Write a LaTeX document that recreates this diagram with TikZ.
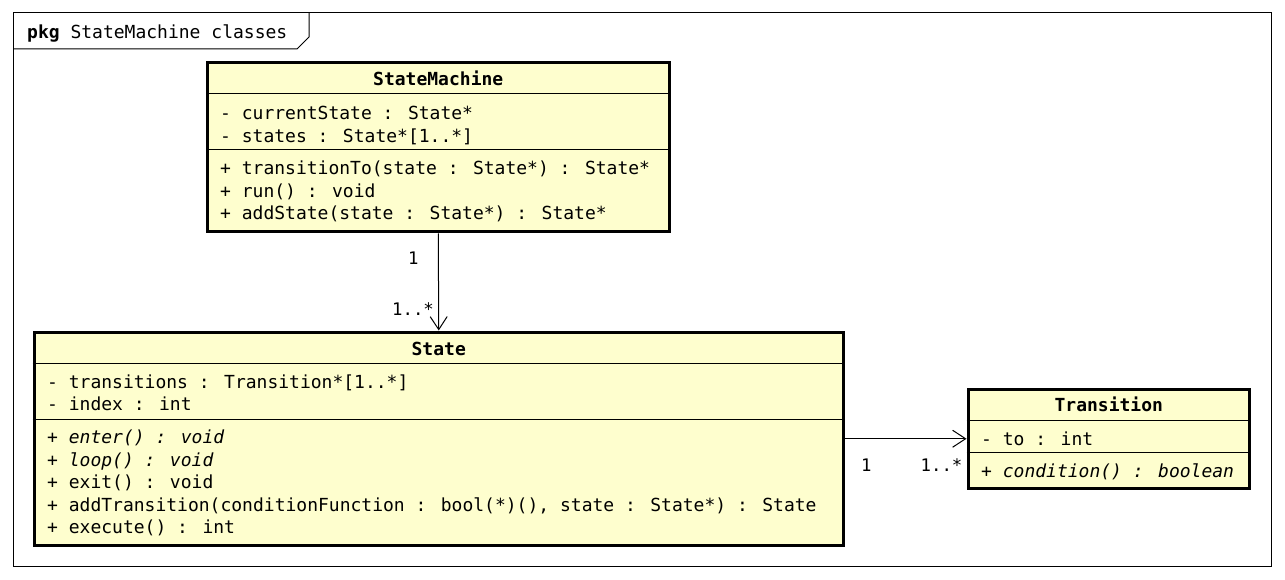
\documentclass[tikz,border=0pt]{standalone}
\usepackage{fontspec}
\setmainfont{DejaVu Sans Mono}
\usetikzlibrary{arrows.meta}
\definecolor{classfill}{HTML}{FEFECE}
\begin{document}
\begin{tikzpicture}[x=1pt,y=-1pt,
 classbox/.style={draw, line width=3pt, fill=classfill, inner sep=0pt},
 sepline/.style={line width=1pt},
 txt/.style={anchor=base west, inner sep=0pt, font=\fontsize{18}{22}\selectfont},
 ttl/.style={anchor=base, inner sep=0pt, font=\fontsize{18}{22}\selectfont\bfseries},
 mult/.style={anchor=base west, inner sep=0pt, font=\fontsize{17.3}{20}\selectfont},
 assoc/.style={line width=1pt, -{Straight Barb[length=13pt,width=17pt]}}]
\useasboundingbox (0,0) rectangle (1285,580);
% package frame
\draw[line width=1pt] (13,13) rectangle (1271,566);
\draw[line width=1pt] (13,49) -- (297,49) -- (309,37) -- (309,13);
\node[txt] (pkg) at (27,39) {\textbf{pkg} StateMachine classes};

% StateMachine
\node[classbox, minimum width=461.5pt, minimum height=169pt] (sm) at (438.25,147.5) {};
\draw[sepline] (sm.west |- 0,94) -- (sm.east |- 0,94);
\draw[sepline] (sm.west |- 0,150) -- (sm.east |- 0,150);
\node[ttl] (smt) at (438.25,86) {StateMachine};
\node[txt] (sma1) at (220,120) {- currentState : State*};
\node[txt] (sma2) at (220,142.5) {- states : State*[1..*]};
\node[txt] (smm1) at (220,175) {+ transitionTo(state : State*) : State*};
\node[txt] (smm2) at (220,197.5) {+ run() : void};
\node[txt] (smm3) at (220,220) {+ addState(state : State*) : State*};

% State
\node[classbox, minimum width=809.5pt, minimum height=213pt] (st) at (438.75,438.5) {};
\draw[sepline] (st.west |- 0,363.5) -- (st.east |- 0,363.5);
\draw[sepline] (st.west |- 0,419.3) -- (st.east |- 0,419.3);
\node[ttl] (stt) at (438.75,355) {State};
\node[txt] (sta1) at (47,388) {- transitions : Transition*[1..*]};
\node[txt] (sta2) at (47,410.5) {- index : int};
\node[txt] (stm1) at (47,443.5) {\itshape + enter() : void};
\node[txt] (stm2) at (47,466) {\itshape + loop() : void};
\node[txt] (stm3) at (47,488.5) {+ exit() : void};
\node[txt] (stm4) at (47,511) {+ addTransition(conditionFunction : bool(*)(), state : State*) : State};
\node[txt] (stm5) at (47,533.5) {+ execute() : int};

% Transition
\node[classbox, minimum width=281.5pt, minimum height=99.5pt] (tr) at (1108.75,438.75) {};
\draw[sepline] (tr.west |- 0,420.7) -- (tr.east |- 0,420.7);
\draw[sepline] (tr.west |- 0,452.7) -- (tr.east |- 0,452.7);
\node[ttl] (trt) at (1108.75,411) {Transition};
\node[txt] (tra1) at (981,445) {- to : int};
\node[txt] (trm1) at (981,477) {\itshape + condition() : boolean};

% associations
\draw[assoc] (sm.south) -- (st.north);
\node[mult] (m1) at (408,264) {1};
\node[mult] (m2) at (392,315) {1..*};
\draw[assoc] (st.east |- tr.west) -- (tr.west);
\node[mult] (m3) at (861,471.5) {1};
\node[mult] (m4) at (920.5,471.5) {1..*};
\end{tikzpicture}
\end{document}
